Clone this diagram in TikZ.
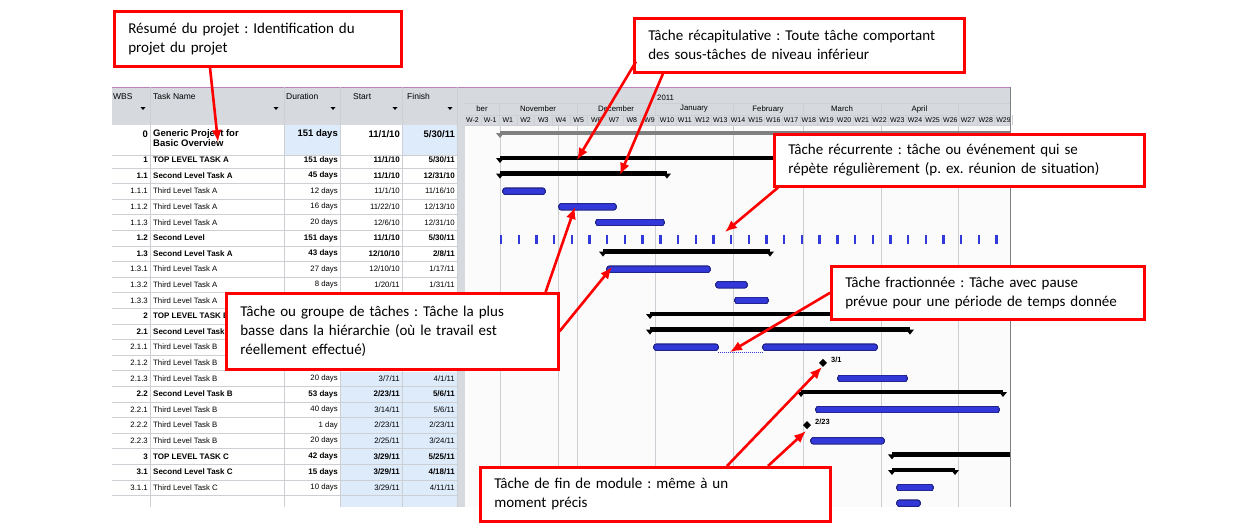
\documentclass[tikz,border=0pt]{standalone}
\usepackage{fontspec}
\setmainfont{Carlito}
\newfontfamily\tabfont{Liberation Sans}
\usepackage{tikz}
\usetikzlibrary{arrows.meta}
\usetikzlibrary{positioning}
\frenchspacing
\definecolor{hdrgrey}{rgb}{0.84, 0.85, 0.87}
\definecolor{gridgrey}{rgb}{0.80, 0.81, 0.83}
\definecolor{pale}{rgb}{0.87, 0.92, 0.98}
\definecolor{mblue}{rgb}{0.20, 0.22, 0.85}
\definecolor{mred}{rgb}{1.0, 0.0, 0.0}
\tikzset{rowb/.style = {font=\tabfont\bfseries\fontsize{8}{9}\selectfont, inner sep=0}}
\tikzset{rown/.style = {font=\tabfont\fontsize{7.8}{9}\selectfont, inner sep=0}}
\tikzset{callout/.style = {draw=mred, line width=2.6, fill=white, anchor=north west, align=left,
    font=\fontsize{15}{19}\selectfont, inner xsep=14, inner ysep=4}}
\tikzset{pointer/.style = {draw=mred, line width=2.6, -{Latex[length=12pt, width=10pt]}}}
\tikzset{bluebar/.style = {fill=mblue, draw=mblue!60!black, rounded corners=2, line width=0.6}}
\newcommand\sumbar[4][black]{%
  \pgfmathsetmacro\sby{#2}
  \fill [#1] ({#3}, {\sby-2.2}) rectangle ({#4}, {\sby+2.2});
  \fill [#1] ({#3-4}, \sby) -- ({#3+4}, \sby) -- ({#3}, {\sby+5}) -- cycle;
  \fill [#1] ({#4-4}, \sby) -- ({#4+4}, \sby) -- ({#4}, {\sby+5}) -- cycle;}

\begin{document}
\begin{tikzpicture}[x=1pt, y=-1pt]
  \useasboundingbox (0, 0) rectangle (1250, 530);

  % table header
  \fill [hdrgrey] (112, 87) rectangle (465, 125);
  \fill [hdrgrey] (465, 87) rectangle (1010, 125);
  \fill [white] (112, 125) rectangle (457, 507);
  \fill [pale] (284, 125) rectangle (340, 155);
  \fill [pale] (402, 125) rectangle (457, 155);
  \fill [pale] (340, 372) rectangle (457, 507);
  \fill [hdrgrey] (457, 125) rectangle (465, 507);
  \fill [white!97!gray] (465, 125) rectangle (1010, 507);
  \draw [violet!50, line width=1] (112, 87) -- (1010, 87);
  \foreach \x in {150, 284, 340, 402, 457}
    \draw [gridgrey] (\x, 87) -- (\x, 507);
  \foreach \x/\t in {113/WBS, 153/Task Name, 286/Duration, 353/Start, 407/Finish}
    \node [rown, anchor=north west, font=\tabfont\fontsize{8.5}{9}\selectfont] at (\x, 93) {\t};
  \foreach \x in {143, 276, 333, 395, 450}
    \fill (\x-2.5, 107) -- (\x+2.5, 107) -- (\x, 110) -- cycle;

  % row 0
  \draw [gridgrey] (112, 155) -- (457, 155);
  \node [rowb, anchor=east, font=\tabfont\bfseries\fontsize{9.5}{10}\selectfont] (wbs0) at (148, 134) {0};
  \node [rowb, anchor=north west, align=left, font=\tabfont\bfseries\fontsize{9.5}{10.5}\selectfont] (name0) at (153, 129) {Generic Project for\\Basic Overview};
  \node [rowb, anchor=east, font=\tabfont\bfseries\fontsize{9.5}{10}\selectfont] at (338, 134) {151 days};
  \node [rowb, anchor=east, font=\tabfont\bfseries\fontsize{9.5}{10}\selectfont] at (400, 134) {11/1/10};
  \node [rowb, anchor=east, font=\tabfont\bfseries\fontsize{9.5}{10}\selectfont] at (455, 134) {5/30/11};

  % table rows
  \foreach \w/\n/\d/\s/\f/\b [count=\i] in {
      1/TOP LEVEL TASK A/151 days/{11/1/10}/{5/30/11}/rowb,
      1.1/Second Level Task A/45 days/{11/1/10}/{12/31/10}/rowb,
      1.1.1/Third Level Task A/12 days/{11/1/10}/{11/16/10}/rown,
      1.1.2/Third Level Task A/16 days/{11/22/10}/{12/13/10}/rown,
      1.1.3/Third Level Task A/20 days/{12/6/10}/{12/31/10}/rown,
      1.2/Second Level/151 days/{11/1/10}/{5/30/11}/rowb,
      1.3/Second Level Task A/43 days/{12/10/10}/{2/8/11}/rowb,
      1.3.1/Third Level Task A/27 days/{12/10/10}/{1/17/11}/rown,
      1.3.2/Third Level Task A/8 days/{1/20/11}/{1/31/11}/rown,
      1.3.3/Third Level Task A/{}/{}/{}/rown,
      2/TOP LEVEL TASK B/{}/{}/{}/rowb,
      2.1/Second Level Task B/{}/{}/{}/rowb,
      2.1.1/Third Level Task B/{}/{}/{}/rown,
      2.1.2/Third Level Task B/{}/{}/{}/rown,
      2.1.3/Third Level Task B/20 days/{3/7/11}/{4/1/11}/rown,
      2.2/Second Level Task B/53 days/{2/23/11}/{5/6/11}/rowb,
      2.2.1/Third Level Task B/40 days/{3/14/11}/{5/6/11}/rown,
      2.2.2/Third Level Task B/1 day/{2/23/11}/{2/23/11}/rown,
      2.2.3/Third Level Task B/20 days/{2/25/11}/{3/24/11}/rown,
      3/TOP LEVEL TASK C/42 days/{3/29/11}/{5/25/11}/rowb,
      3.1/Second Level Task C/15 days/{3/29/11}/{4/18/11}/rowb,
      3.1.1/Third Level Task C/10 days/{3/29/11}/{4/11/11}/rown} {
    \pgfmathsetmacro\y{160+(\i-1)*15.6}
    \draw [gridgrey] (112, \y+7.8) -- (457, \y+7.8);
    \node [\b, anchor=east] (wbs\i) at (148, \y) {\w};
    \node [\b, anchor=west] (name\i) at (153, \y) {\n};
    \node [\b, anchor=east] at (338, \y) {\d};
    \node [\b, anchor=east] at (400, \y) {\s};
    \node [\b, anchor=east] at (455, \y) {\f};
  }

  % timescale
  \draw [gridgrey] (465, 103) -- (1010, 103) (465, 115) -- (1010, 115) (465, 125) -- (1010, 125);
  \node [rown, anchor=west] at (657, 97.5) {2011};
  \draw [gridgrey] (655, 92) -- (655, 103);
  \foreach \a/\b/\m in {465/499/ber, 499/577/November, 577/655/December, 655/733/January,
      733/803/February, 803/881/March, 881/958/April} {
    \draw [gridgrey] (\b, 103) -- (\b, 115);
    \node [rown] at ({(\a+\b)/2}, 109) {\m};
  }
  \foreach \k/\t in {-2/W-2, -1/W-1} {
    \node [rown, font=\tabfont\fontsize{7}{7}\selectfont] at ({499+(\k+0.5)*17.7}, 120) {\t};
    \draw [gridgrey] ({499+(\k+1)*17.7}, 115) -- ({499+(\k+1)*17.7}, 125);
  }
  \foreach \k in {1, ..., 29} {
    \node [rown, font=\tabfont\fontsize{7}{7}\selectfont] at ({499+(\k-0.5)*17.7}, 120) {W\k};
    \draw [gridgrey] ({499+\k*17.7}, 115) -- ({499+\k*17.7}, 125);
  }

  % gantt bars
  \begin{scope}
    \clip (465, 125) rectangle (1010, 507);
    \foreach \x in {500, 558, 577, 655, 733, 803, 881, 958}
      \draw [gridgrey] (\x, 125) -- (\x, 507);
    \sumbar[gray]{133}{500}{1015}
    \foreach \i/\a/\b in {1/500/1000, 2/500/667, 7/603/770, 11/650/1000, 12/650/910,
        16/801/1003, 20/892/1020, 21/892/955}
      \sumbar{160+(\i-1)*15.6-2}{\a}{\b}
    \foreach \i/\a/\b in {3/503/545, 4/559/616, 5/596/664, 8/607/710, 9/716/747, 10/735/768,
        13/654/718, 13/763/877, 15/838/907, 17/816/999, 19/811/884, 22/897/933, 23/897/920} {
      \pgfmathsetmacro\by{160+(\i-1)*15.6}
      \draw [bluebar] (\a, \by-3) rectangle (\b, \by+3);
    }
    \draw [mblue, densely dotted, line width=1] (718, 352) -- (763, 352);
    \foreach \k in {0, ..., 28}
      \fill [mblue] ({501+\k*17.7-1.2}, 235) rectangle ({501+\k*17.7+1.2}, 244);
    \foreach \x/\i/\t in {823/14/{3/1}, 807/18/{2/23}} {
      \pgfmathsetmacro\my{160+(\i-1)*15.6}
      \fill (\x-4, \my) -- (\x, \my-4) -- (\x+4, \my) -- (\x, \my+4) -- cycle;
      \node [rowb, anchor=west, font=\tabfont\bfseries\fontsize{7.5}{8}\selectfont] at (\x+8, \my-3) {\t};
    }
  \end{scope}
  \draw [gray] (1010, 87) -- (1010, 507);

  % callouts
  \node [callout, minimum width=287, minimum height=55, text width=259] (resume) at (113, 10)
    {Résumé du projet : Identification du\\projet du projet};
  \node [callout, minimum width=330, minimum height=54, text width=302] (recap) at (633, 17)
    {Tâche récapitulative : Toute tâche comportant\\des sous-tâches de niveau inférieur};
  \node [callout, minimum width=370, minimum height=52, text width=342] (recur) at (773, 133)
    {Tâche récurrente : tâche ou événement qui se\\répète régulièrement (p. ex. réunion de situation)};
  \node [callout, minimum width=332, minimum height=76, text width=304] (group) at (225, 292)
    {Tâche ou groupe de tâches : Tâche la plus\\basse dans la hiérarchie (où le travail est\\réellement effectué)};
  \node [callout, minimum width=313, minimum height=53, text width=285] (split) at (830, 265)
    {Tâche fractionnée : Tâche avec pause\\prévue pour une période de temps donnée};
  \node [callout, minimum width=350, minimum height=54, text width=322] (mile) at (479, 466)
    {Tâche de fin de module : même à un\\moment précis};

  % pointers
  \coordinate (tres) at (218, 142);
  \coordinate (ttop) at (577, 160);
  \coordinate (tsec) at (620, 175);
  \coordinate (trec) at (725, 232);
  \coordinate (tbar) at (575, 207);
  \coordinate (tbarb) at (612, 267);
  \coordinate (tspl) at (730, 352);
  \coordinate (tm1) at (822, 367);
  \coordinate (tm2) at (806, 431);
  \draw [pointer] (resume.south west) ++(97, 0) -- (tres);
  \draw [pointer] (recap.south west) ++(3, -12) -- (ttop);
  \draw [pointer] (recap.south west) ++(30, 0) -- (tsec);
  \draw [pointer] (recur.south west) ++(5, 0) -- (trec);
  \draw [pointer] (group.north east) ++(-14, 0) -- (tbar);
  \draw [pointer] (group.east) -- (tbarb);
  \draw [pointer] (split.west) -- (tspl);
  \draw [pointer] (mile.north west) ++(248, 0) -- (tm1);
  \draw [pointer] (mile.north west) ++(289, 0) -- (tm2);
\end{tikzpicture}
\end{document}
